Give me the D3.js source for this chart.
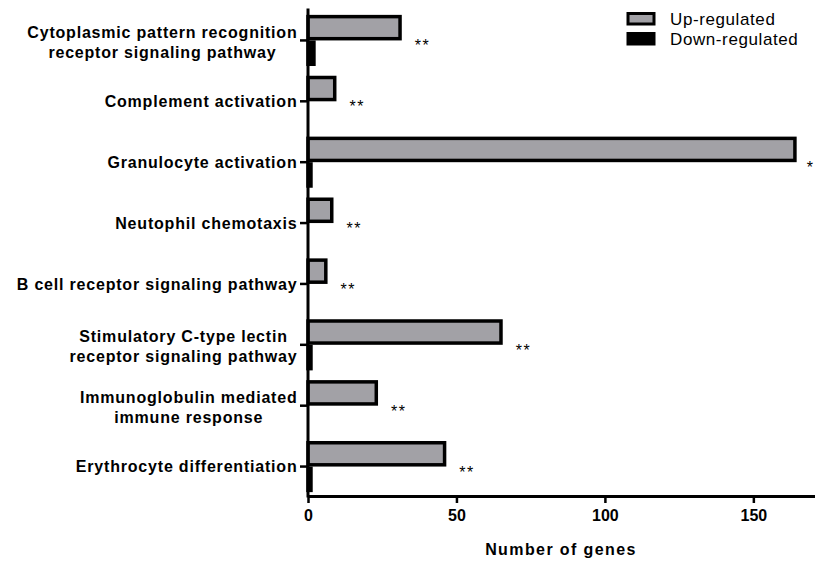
<!DOCTYPE html>
<html>
<head>
<meta charset="utf-8">
<script src="https://cdn.jsdelivr.net/npm/d3@7"></script>
<style>
  html, body { margin: 0; padding: 0; background: #fff; }
  svg { display: block; font-family: "Liberation Sans", Arial, Helvetica, sans-serif; }
</style>
</head>
<body>
<svg id="chart" width="815" height="563"></svg>
<script>
// GO terms (top to bottom); "\n" marks a line break in the label
const categories = [
  "Cytoplasmic pattern recognition\nreceptor signaling pathway",
  "Complement activation",
  "Granulocyte activation",
  "Neutophil chemotaxis",
  "B cell receptor signaling pathway",
  "Stimulatory C-type lectin\nreceptor signaling pathway",
  "Immunoglobulin mediated\nimmune response",
  "Erythrocyte differentiation"
];
const upRegulated   = [31, 9, 164, 8, 6, 65, 23, 46];
const downRegulated = [2, 0, 1, 0, 0, 1, 0, 1];
const significance  = ["**", "**", "*", "**", "**", "**", "**", "**"];
const seriesNames   = ["Up-regulated", "Down-regulated"];
const xTicks        = [0, 50, 100, 150];
const xTitle        = "Number of genes";

const svg = d3.select("#chart");
const upFill = "#a2a1a6";
const barStroke = 3.5;

const x = d3.scaleLinear().domain([0, 171]).range([308, 815.7]);
const y = d3.scaleBand().domain(categories).range([10, 497])
  .paddingInner(0.16).paddingOuter(0.08);
const sub = d3.scaleBand().domain(seriesNames).range([0, y.bandwidth()]);

const rows = categories.map((c, i) => ({
  cat: c, up: upRegulated[i], down: downRegulated[i], sig: significance[i]
}));

// bars
const groups = svg.append("g").selectAll("g").data(rows).join("g")
  .attr("transform", d => `translate(0,${y(d.cat)})`);

groups.append("rect")
  .attr("x", x(0))
  .attr("y", sub("Up-regulated") + barStroke / 2)
  .attr("width", d => x(d.up) - x(0))
  .attr("height", sub.bandwidth() - barStroke)
  .attr("fill", upFill)
  .attr("stroke", "#000")
  .attr("stroke-width", barStroke);

groups.filter(d => d.down > 0).append("rect")
  .attr("x", x(0))
  .attr("y", sub("Down-regulated") + barStroke / 2)
  .attr("width", d => x(d.down) - x(0))
  .attr("height", sub.bandwidth() - barStroke)
  .attr("fill", "#000")
  .attr("stroke", "#000")
  .attr("stroke-width", barStroke);

// significance marks
groups.append("text")
  .attr("x", d => x(d.up) + barStroke / 2 + (d.sig.length === 1 ? 10 : 13))
  .attr("y", y.bandwidth() / 2 + 11)
  .attr("font-size", 16)
  .attr("letter-spacing", 1.5)
  .attr("fill", "#000")
  .text(d => d.sig);

// x axis
const xAxis = svg.append("g")
  .attr("transform", "translate(0,496)")
  .call(d3.axisBottom(x).tickValues(xTicks).tickSize(7).tickSizeOuter(0).tickPadding(7));
xAxis.select(".domain").attr("stroke-width", 3);
xAxis.selectAll(".tick line").attr("stroke-width", 2.5);
xAxis.selectAll(".tick text")
  .attr("font-size", 16).attr("font-weight", "bold")
  .attr("font-family", "'Liberation Sans', Arial, sans-serif")
  .attr("fill", "#000");

// y axis (ticks only; labels drawn below)
const yAxis = svg.append("g")
  .attr("transform", `translate(${x(0)},0)`)
  .call(d3.axisLeft(y).tickSize(8).tickSizeOuter(0).tickFormat(""));
yAxis.select(".domain").attr("stroke-width", 3).attr("d", "M0,8.5V497.5");
yAxis.selectAll(".tick line").attr("stroke-width", 2.5);

// category labels: multi-line ones are centred as a block, right-aligned to the ticks
const labelRight = 297.5;
const lineH = 20;
categories.forEach(c => {
  const lines = c.split("\n");
  const cy = y(c) + y.bandwidth() / 2;
  const t = svg.append("text")
    .attr("font-size", 16).attr("font-weight", "bold")
    .attr("letter-spacing", 0.8)
    .attr("fill", "#000");
  if (lines.length === 1) {
    t.attr("x", labelRight).attr("y", cy + 5.6).attr("text-anchor", "end").text(c);
  } else {
    const spans = lines.map((ln, k) => t.append("tspan")
      .attr("y", cy + 1.5 - (lines.length - 1) * lineH / 2 + k * lineH + 5.6)
      .text(ln));
    const maxW = d3.max(spans, s => s.node().getComputedTextLength());
    t.attr("text-anchor", "middle");
    spans.forEach(s => s.attr("x", labelRight - maxW / 2));
  }
});

// x axis title
svg.append("text")
  .attr("x", 561).attr("y", 555)
  .attr("text-anchor", "middle")
  .attr("font-size", 16).attr("font-weight", "bold")
  .attr("letter-spacing", 1.4)
  .attr("fill", "#000")
  .text(xTitle);

// legend
const legend = svg.append("g").selectAll("g").data(seriesNames).join("g")
  .attr("transform", (d, i) => `translate(628,${13.5 + i * 20})`);
legend.append("rect")
  .attr("width", 26).attr("height", 10.5)
  .attr("fill", (d, i) => i === 0 ? upFill : "#000")
  .attr("stroke", "#000").attr("stroke-width", 3);
legend.append("text")
  .attr("x", 42).attr("y", 11.5)
  .attr("font-size", 17).attr("letter-spacing", 0.6)
  .attr("fill", "#000")
  .text(d => d);
</script>
</body>
</html>
